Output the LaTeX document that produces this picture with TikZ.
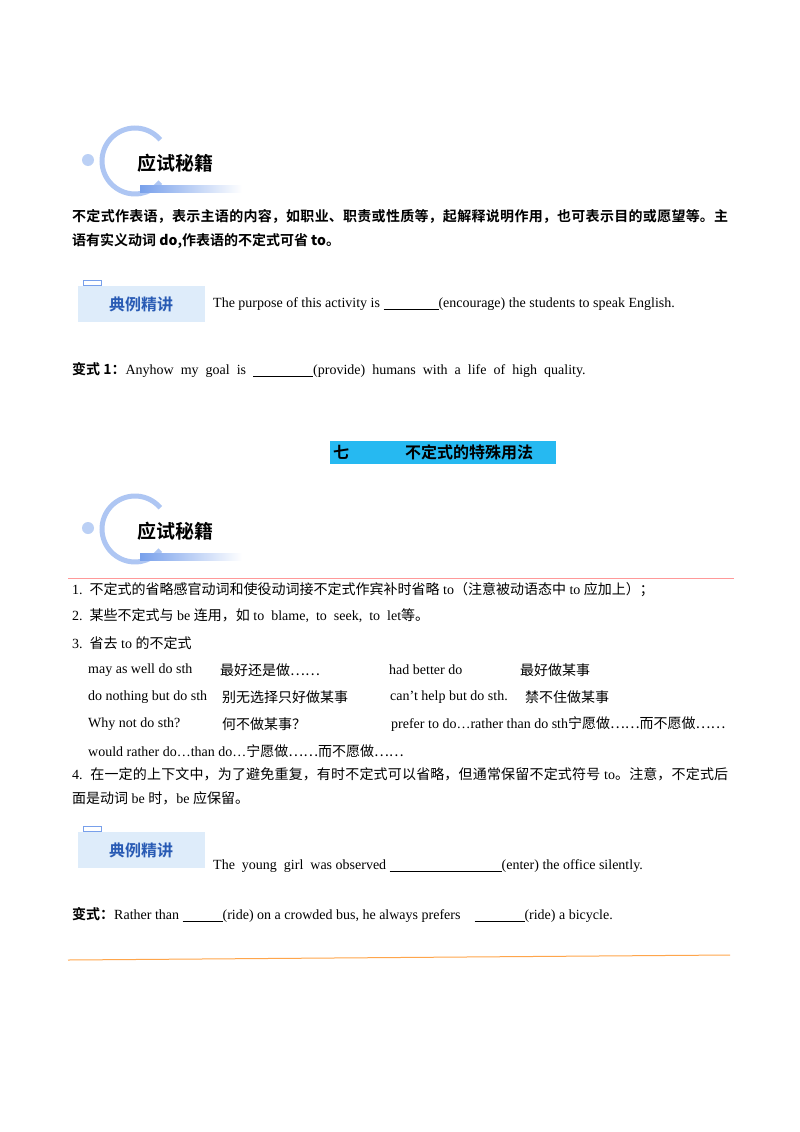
\documentclass[tikz,border=0pt]{standalone}
\usepackage{fontspec}
\setmainfont{Liberation Serif}
\newfontfamily\cjk{Noto Sans CJK SC}
\newfontfamily\cjkb{Noto Sans CJK SC Bold}
\XeTeXlinebreaklocale "zh"
\XeTeXlinebreakskip=0pt plus 1pt
\usetikzlibrary{shadings}
\definecolor{logoblue}{RGB}{120,160,235}
\definecolor{boxblue}{RGB}{222,236,250}
\definecolor{titleblue}{RGB}{40,90,180}
\tikzset{
  body/.style={anchor=west,inner sep=0pt,font=\fontsize{14}{16}\selectfont},
  para/.style={anchor=north west,inner sep=0pt,text width=656pt,align=justify,font=\fontsize{14}{24}\selectfont},
}
\newcommand{\zh}[1]{{\cjk #1}}
\newcommand{\zhb}[1]{{\cjkb #1}}
\newcommand{\blank}[1]{\underline{\hspace{#1}}}
\begin{document}
\begin{tikzpicture}[x=1pt,y=-1pt]
\useasboundingbox (0,0) rectangle (800,1132);
\fill[white] (0,0) rectangle (800,1132);
\foreach \dy/\nm in {0/a,368/b}{
  \begin{scope}[yshift=-\dy pt]
  \fill[logoblue!50] (88,160) circle (6);
  \draw[line width=5pt,logoblue!60] (135,161) ++(-40:33) arc (-40:-320:33);
  \shade[left color=logoblue,right color=white] (140,185) rectangle (242,192);
  \node[inner sep=0pt,font=\fontsize{19}{19}\selectfont] (logo\nm) at (175,163) {\zhb{应试秘籍}};
  \end{scope}
}
\node[para] (p1) at (72,209) {\zhb{不定式作表语，表示主语的内容，如职业、职责或性质等，起解释说明作用，也可表示目的或愿望等。主语有实义动词 \textbf{do},作表语的不定式可省 \textbf{to}。}};
\fill[boxblue] (78,286) rectangle (205,322);
\draw[logoblue,line width=1pt] (83,280) rectangle (101,285);
\node[inner sep=0pt,text=titleblue,font=\fontsize{16}{16}\selectfont] (ex1) at (141,304) {\zhb{典例精讲}};
\node[body] (s1) at (213,304) {The purpose of this activity is \blank{55pt}(encourage) the students to speak English.};
\node[body] (v1) at (72,370) {\zhb{变式 1：}Anyhow\ \ my\ \ goal\ \ is\ \ \blank{60pt}(provide)\ \ humans\ \ with\ \ a\ \ life\ \ of\ \ high\ \ quality.};
\fill[cyan!85!white] (330,441) rectangle (556,464);
\node[inner sep=0pt,font=\fontsize{16}{16}\selectfont] (h1) at (341,452) {\zhb{七}};
\node[inner sep=0pt,anchor=west,font=\fontsize{16}{16}\selectfont] (h2) at (405,452) {\zhb{不定式的特殊用法}};
\draw[red!40,line width=0.8pt] (68,578) -- (734,578);
\node[body] (l1) at (72,590) {1.\ \ \zh{不定式的省略感官动词和使役动词接不定式作宾补时省略} to\zh{（注意被动语态中} to \zh{应加上）；}};
\node[body] (l2) at (72,616) {2.\ \ \zh{某些不定式与} be \zh{连用，如} to\ \ blame,\ \ to\ \ seek,\ \ to\ \ let\zh{等。}};
\node[body] (l3) at (72,643) {3.\ \ \zh{省去} to \zh{的不定式}};
\node[body] (a1) at (88,670) {may as well do sth};
\node[body] (a2) at (220,670) {\zh{最好还是做……}};
\node[body] (a3) at (389,670) {had better do};
\node[body] (a4) at (520,670) {\zh{最好做某事}};
\node[body] (b1) at (88,697) {do nothing but do sth};
\node[body] (b2) at (222,697) {\zh{别无选择只好做某事}};
\node[body] (b3) at (390,697) {can’t help but do sth.};
\node[body] (b4) at (525,697) {\zh{禁不住做某事}};
\node[body] (c1) at (88,724) {Why not do sth?};
\node[body] (c2) at (222,724) {\zh{何不做某事？}};
\node[body] (c3) at (391,724) {prefer to do…rather than do sth\zh{宁愿做……而不愿做……}};
\node[body] (d1) at (88,751) {would rather do…than do…\zh{宁愿做……而不愿做……}};
\node[para] (l4) at (72,767) {4.\ \ \zh{在一定的上下文中，为了避免重复，有时不定式可以省略，但通常保留不定式符号} to\zh{。注意，不定式后面是动词} be \zh{时，}be \zh{应保留。}};
\fill[boxblue] (78,832) rectangle (205,868);
\draw[logoblue,line width=1pt] (83,826) rectangle (101,831);
\node[inner sep=0pt,text=titleblue,font=\fontsize{16}{16}\selectfont] (ex2) at (141,850) {\zhb{典例精讲}};
\node[body] (s2) at (213,866) {The\ \ young\ \ girl\ \ was observed \blank{112pt}(enter) the office silently.};
\node[body] (v2) at (72,915) {\zhb{变式：}Rather than \blank{40pt}(ride) on a crowded bus, he always prefers\ \ \ \ \blank{50pt}(ride) a bicycle.};
\draw[orange!70,line width=1pt] (68,960) -- (730,955);
\end{tikzpicture}
\end{document}
